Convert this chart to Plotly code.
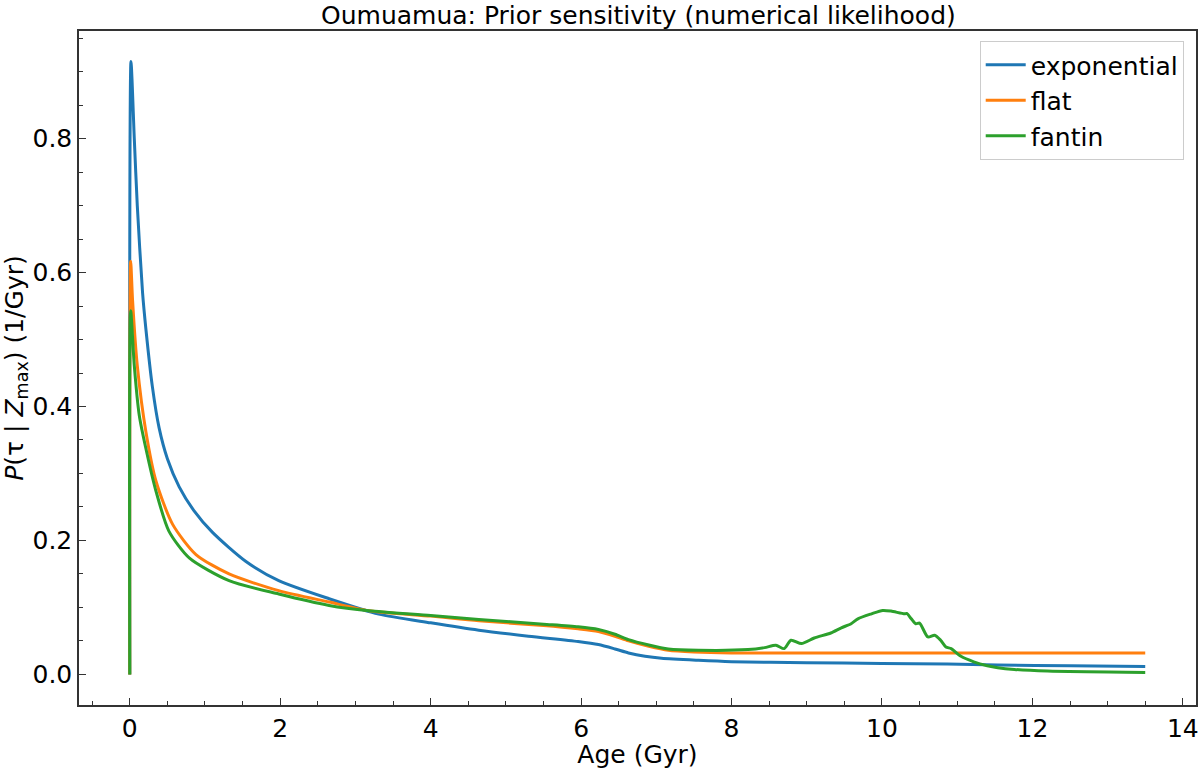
import plotly.graph_objects as go

# ---- data ----
exp_age = [0.0, 0.016, 0.06, 0.10, 0.17, 0.215, 0.30, 0.39, 0.50, 0.657, 0.85, 1.10, 1.54, 1.98,
           2.65, 3.31, 4.0, 4.64, 5.3, 5.96, 6.23, 6.45, 6.63, 6.85, 7.07, 7.56, 8.0, 9.0, 10.0,
           10.87, 11.54, 12.5, 13.5]
exp_p = [0.0, 0.915, 0.80, 0.70, 0.57, 0.515, 0.43, 0.368, 0.322, 0.280, 0.245, 0.212, 0.169, 0.140,
         0.113, 0.090, 0.077, 0.066, 0.057, 0.049, 0.0445, 0.038, 0.032, 0.027, 0.024, 0.021, 0.019,
         0.0175, 0.0162, 0.0154, 0.014, 0.013, 0.0118]

flat_age = [0.0, 0.012, 0.037, 0.10, 0.215, 0.35, 0.57, 0.88, 1.32, 1.98, 2.65, 3.18, 4.0, 4.64,
            5.5, 5.96, 6.23, 6.45, 6.63, 6.9, 7.16, 7.5, 8.0, 13.5]
flat_p = [0.0, 0.617, 0.559, 0.461, 0.362, 0.288, 0.224, 0.179, 0.150, 0.125, 0.108, 0.095, 0.087,
          0.080, 0.073, 0.068, 0.064, 0.057, 0.050, 0.042, 0.036, 0.0335, 0.032, 0.032]

fantin_age = [0.0, 0.012, 0.06, 0.126, 0.215, 0.35, 0.52, 0.79, 1.32, 1.98, 2.65, 3.18, 4.0, 4.64,
              5.5, 5.96, 6.23, 6.45, 6.63, 6.9, 7.16, 7.56, 8.22, 8.44, 8.59, 8.70, 8.79, 8.93,
              9.10, 9.32, 9.46, 9.59, 9.68, 9.86, 10.01, 10.12, 10.30, 10.33, 10.39, 10.45, 10.50,
              10.61, 10.70, 10.78, 10.85, 10.92, 11.05, 11.22, 11.40, 11.54, 11.76, 12.2, 13.5]
fantin_p = [0.0, 0.543, 0.461, 0.387, 0.337, 0.273, 0.214, 0.174, 0.140, 0.120, 0.103, 0.095, 0.088,
            0.082, 0.075, 0.071, 0.067, 0.060, 0.052, 0.044, 0.038, 0.036, 0.037, 0.040, 0.0435,
            0.0385, 0.051, 0.046, 0.0543, 0.0618, 0.0696, 0.0756, 0.083, 0.0904, 0.0955, 0.0945,
            0.0904, 0.091, 0.083, 0.0756, 0.0766, 0.0559, 0.0584, 0.051, 0.041, 0.0385, 0.027,
            0.0188, 0.013, 0.010, 0.0074, 0.005, 0.003]

series = [
    ("exponential", exp_age, exp_p, "#1f77b4"),
    ("flat", flat_age, flat_p, "#ff7f0e"),
    ("fantin", fantin_age, fantin_p, "#2ca02c"),
]

FONT = "DejaVu Sans"

fig = go.Figure()
for name, x, y, c in series:
    fig.add_trace(go.Scatter(x=x, y=y, mode="lines", name=name,
                             line=dict(color=c, width=3, shape="spline", smoothing=0.7)))

axis_common = dict(
    showline=True, linecolor="#333333", linewidth=1.5, mirror=True,
    ticks="inside", ticklen=7, tickwidth=1.2, tickcolor="#333333",
    showgrid=False, zeroline=False,
    tickfont=dict(family=FONT, size=25, color="black"),
)

fig.update_xaxes(
    range=[-0.675, 14.175], dtick=2, tick0=0,
    minor=dict(ticks="inside", dtick=0.5, ticklen=4, tickwidth=1, tickcolor="#333333", showgrid=False),
    title=dict(text="Age (Gyr)", font=dict(family=FONT, size=25, color="black"), standoff=0),
    **axis_common,
)
fig.update_yaxes(
    range=[-0.0457, 0.9607], dtick=0.2, tick0=0, tickformat=".1f",
    minor=dict(ticks="inside", dtick=0.05, ticklen=4, tickwidth=1, tickcolor="#333333", showgrid=False),
    title=dict(text="<i>P</i>(τ | <i>Z</i><sub>max</sub>) (1/Gyr)",
               font=dict(family=FONT, size=25, color="black"), standoff=8),
    **axis_common,
)

fig.update_layout(
    width=1200, height=769,
    margin=dict(l=79, r=2, t=31, b=64),
    paper_bgcolor="white", plot_bgcolor="white",
    title=dict(text="Oumuamua: Prior sensitivity (numerical likelihood)",
               x=0.532, xanchor="center", y=0.980, yanchor="middle",
               font=dict(family=FONT, size=25, color="black")),
    legend=dict(x=0.989, y=0.985, xanchor="right", yanchor="top",
                bgcolor="white", bordercolor="#cccccc", borderwidth=1,
                font=dict(family=FONT, size=25, color="black"),
                tracegroupgap=0, itemwidth=40),
    showlegend=True,
)

fig.write_html("out.html")
